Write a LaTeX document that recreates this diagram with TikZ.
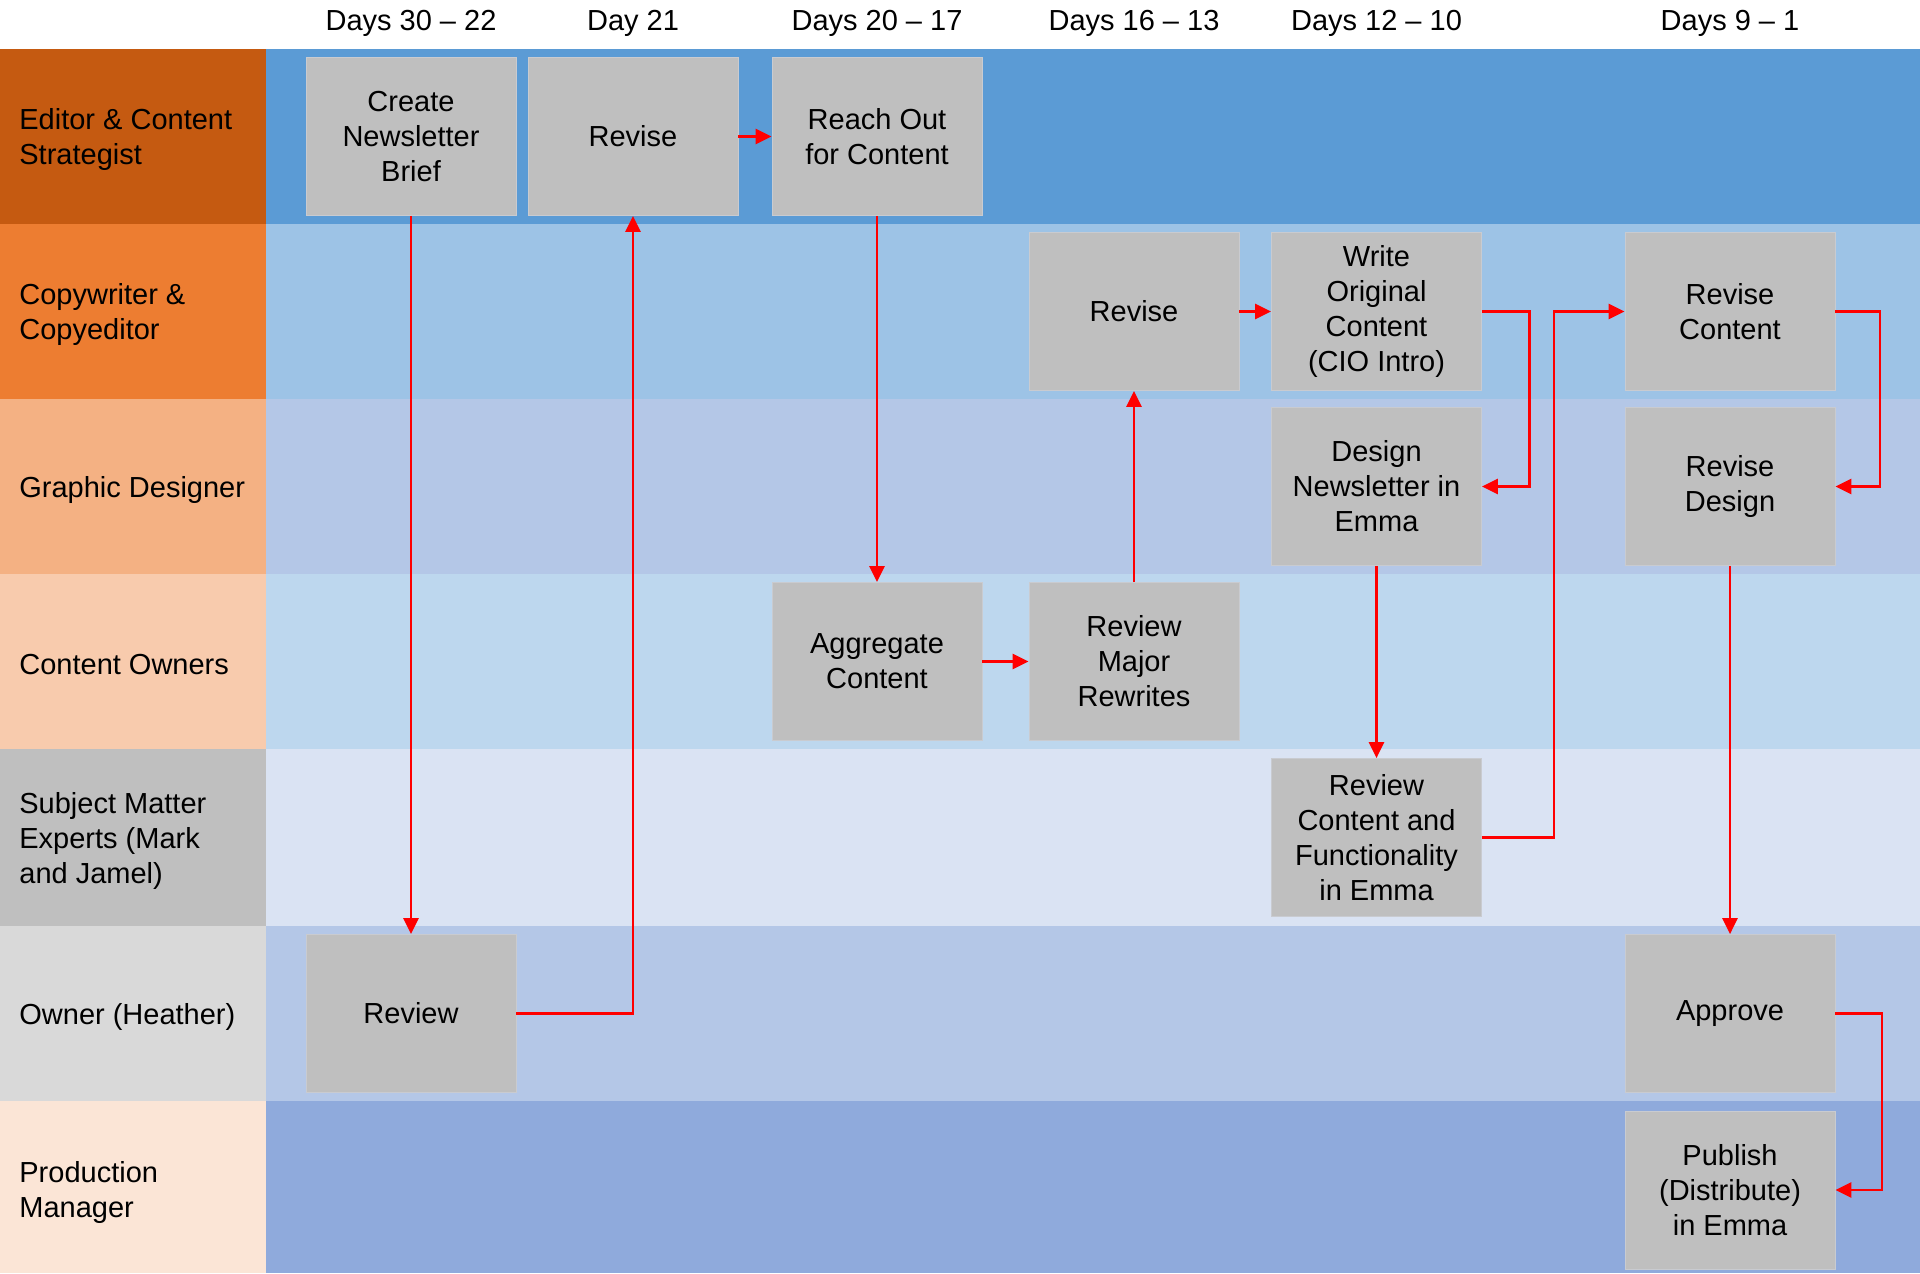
\documentclass[tikz,border=0pt]{standalone}
\usepackage{fontspec}
\setmainfont{Liberation Sans}
\usetikzlibrary{arrows.meta}
\definecolor{labA}{HTML}{C55A11}
\definecolor{labB}{HTML}{ED7D31}
\definecolor{labC}{HTML}{F4B183}
\definecolor{labD}{HTML}{F8CBAD}
\definecolor{labE}{HTML}{BFBFBF}
\definecolor{labF}{HTML}{D9D9D9}
\definecolor{labG}{HTML}{FBE5D6}
\definecolor{bgA}{HTML}{5B9BD5}
\definecolor{bgB}{HTML}{9DC3E6}
\definecolor{bgC}{HTML}{B4C7E7}
\definecolor{bgD}{HTML}{BDD7EE}
\definecolor{bgE}{HTML}{DAE3F3}
\definecolor{bgF}{HTML}{B4C7E7}
\definecolor{bgG}{HTML}{8FAADC}
\definecolor{boxgray}{HTML}{BFBFBF}
\definecolor{boxedge}{HTML}{C9CBD0}
\definecolor{arrred}{HTML}{FF0000}
\tikzset{
  taskbox/.style={fill=boxgray, draw=boxedge, line width=0.4pt, minimum width=105pt, minimum height=79pt,
    inner sep=0pt, align=center, font=\fontsize{14.5}{17.5}\selectfont},
  hdrtext/.style={inner sep=0pt, font=\fontsize{14.5}{17.5}\selectfont},
  lanelab/.style={anchor=west, inner sep=0pt, align=left, font=\fontsize{14.5}{17.5}\selectfont},
  flow/.style={draw=arrred, line width=1.3pt, -{Triangle[length=8pt,width=7.5pt]}}
}
\begin{document}
\begin{tikzpicture}[x=0.5pt,y=-0.5pt]
\useasboundingbox (0,0) rectangle (1920,1273);
\fill[white] (0,0) rectangle (1920,49);
% lanes
\fill[labA] (0,49) rectangle (266,224);   \fill[bgA] (266,49) rectangle (1920,224);
\fill[labB] (0,224) rectangle (266,399);  \fill[bgB] (266,224) rectangle (1920,399);
\fill[labC] (0,399) rectangle (266,574);  \fill[bgC] (266,399) rectangle (1920,574);
\fill[labD] (0,574) rectangle (266,749);  \fill[bgD] (266,574) rectangle (1920,749);
\fill[labE] (0,749) rectangle (266,926);  \fill[bgE] (266,749) rectangle (1920,926);
\fill[labF] (0,926) rectangle (266,1101); \fill[bgF] (266,926) rectangle (1920,1101);
\fill[labG] (0,1101) rectangle (266,1273);\fill[bgG] (266,1101) rectangle (1920,1273);

% headers
\node[hdrtext] (h1) at (411,23.5) {Days 30 – 22};
\node[hdrtext] (h2) at (633,23.5) {Day 21};
\node[hdrtext] (h3) at (877,23.5) {Days 20 – 17};
\node[hdrtext] (h4) at (1134,23.5) {Days 16 – 13};
\node[hdrtext] (h5) at (1376.5,23.5) {Days 12 – 10};
\node[hdrtext] (h6) at (1730,23.5) {Days 9 – 1};

% lane labels
\node[lanelab] (l1) at (19,139.5) {Editor \& Content\\Strategist};
\node[lanelab] (l2) at (19,314.5) {Copywriter \&\\Copyeditor};
\node[lanelab] (l3) at (19,489.5) {Graphic Designer};
\node[lanelab] (l4) at (19,664.5) {Content Owners};
\node[lanelab] (l5) at (19,840.5) {Subject Matter\\Experts (Mark\\and Jamel)};
\node[lanelab] (l6) at (19,1016.5) {Owner (Heather)};
\node[lanelab] (l7) at (19,1192) {Production\\Manager};

% tasks
\node[taskbox] (create) at (411,136.5) {Create\\Newsletter\\Brief};
\node[taskbox] (reviseA) at (633,136.5) {Revise};
\node[taskbox] (reach) at (877,136.5) {Reach Out\\for Content};
\node[taskbox] (reviseB) at (1134,311.5) {Revise};
\node[taskbox] (write) at (1376.5,311.5) {Write\\Original\\Content\\(CIO Intro)};
\node[taskbox] (revcont) at (1730,311.5) {Revise\\Content};
\node[taskbox] (design) at (1376.5,486.5) {Design\\Newsletter in\\Emma};
\node[taskbox] (revdes) at (1730,486.5) {Revise\\Design};
\node[taskbox] (aggr) at (877,661.5) {Aggregate\\Content};
\node[taskbox] (rmr) at (1134,661.5) {Review\\Major\\Rewrites};
\node[taskbox] (rcf) at (1376.5,837.5) {Review\\Content and\\Functionality\\in Emma};
\node[taskbox] (review) at (411,1013.5) {Review};
\node[taskbox] (approve) at (1730,1013.5) {Approve};
\node[taskbox] (publish) at (1730,1190) {Publish\\(Distribute)\\in Emma};

% elbow coordinates
\coordinate (eW) at (1529.5,0);
\coordinate (eR) at (1554,0);
\coordinate (eC) at (1880,0);
\coordinate (eA) at (1882,0);

% connectors
\draw[flow] (create.south) -- (review.north);
\draw[flow] (review.east) -| (reviseA.south);
\draw[flow] (reviseA.east) -- (reach.west);
\draw[flow] (reach.south) -- (aggr.north);
\draw[flow] (aggr.east) -- (rmr.west);
\draw[flow] (rmr.north) -- (reviseB.south);
\draw[flow] (reviseB.east) -- (write.west);
\draw[flow] (write.east) -- (write.east -| eW) -- (design.east -| eW) -- (design.east);
\draw[flow] (design.south) -- (rcf.north);
\draw[flow] (rcf.east) -- (rcf.east -| eR) -- (revcont.west -| eR) -- (revcont.west);
\draw[flow] (revcont.east) -- (revcont.east -| eC) -- (revdes.east -| eC) -- (revdes.east);
\draw[flow] (revdes.south) -- (approve.north);
\draw[flow] (approve.east) -- (approve.east -| eA) -- (publish.east -| eA) -- (publish.east);
\end{tikzpicture}
\end{document}
